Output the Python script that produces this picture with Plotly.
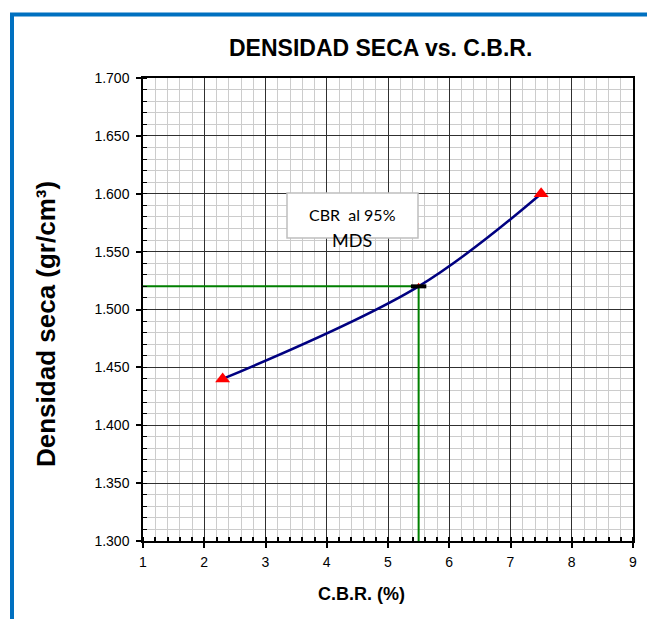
import plotly.graph_objects as go

# Data
cbr = [2.3, 5.5, 7.5]
densidad = [1.44, 1.52, 1.60]
cbr_95 = 5.5
mds_95 = 1.52
x_min, x_max = 1, 9
y_min, y_max = 1.30, 1.70

title_text = "DENSIDAD SECA vs. C.B.R."
x_title = "C.B.R. (%)"
y_title = "Densidad seca (gr/cm³)"
box_line1 = "CBR  al 95%"
box_line2 = "MDS"

fig = go.Figure()

# green guide lines
fig.add_trace(go.Scatter(
    x=[x_min, cbr_95, cbr_95], y=[mds_95, mds_95, y_min],
    mode="lines", line=dict(color="#008000", width=2),
    hoverinfo="skip", showlegend=False, cliponaxis=False))

# main curve
fig.add_trace(go.Scatter(
    x=cbr, y=densidad, mode="lines+markers",
    line=dict(color="#000080", width=2.5, shape="spline", smoothing=1),
    marker=dict(symbol="triangle-up", color="#FF0000", size=[13, 7, 13],
                opacity=1, line=dict(width=0)),
    showlegend=False))

# black dash marker at CBR 95%
fig.add_trace(go.Scatter(
    x=[cbr_95], y=[mds_95], mode="markers",
    marker=dict(symbol="line-ew", size=11,
                line=dict(color="black", width=4)),
    showlegend=False))

axis_font = dict(family="Liberation Sans, Arial", size=14, color="black")

fig.update_xaxes(
    range=[x_min, x_max], dtick=1, tick0=1,
    showgrid=True, gridcolor="#303030", gridwidth=1,
    showline=True, linecolor="black", linewidth=2, mirror=True,
    ticks="outside", ticklen=5, tickcolor="black", tickwidth=1.5,
    tickfont=axis_font, zeroline=False, ticklabelstandoff=2,
    minor=dict(dtick=0.2, showgrid=True, gridcolor="#CCCCCC", gridwidth=1,
               ticks="inside", ticklen=4, tickcolor="black", tickwidth=1.5))

fig.update_yaxes(
    range=[y_min, y_max], dtick=0.05, tick0=1.3, tickformat=".3f",
    showgrid=True, gridcolor="#303030", gridwidth=1,
    showline=True, linecolor="black", linewidth=1.5, mirror=True,
    ticks="outside", ticklen=5, tickcolor="black", tickwidth=1.5,
    tickfont=axis_font, zeroline=False, ticklabelstandoff=4,
    minor=dict(dtick=0.01, showgrid=True, gridcolor="#CCCCCC", gridwidth=1,
               ticks="inside", ticklen=4, tickcolor="black", tickwidth=1))

L, R, T, B = 143, 14, 78, 78
W, H = 647, 619
pw = W - L - R
ph = H - T - B

def px(xp):
    return (xp - L) / pw

def py(yp):
    return (H - B - yp) / ph

shapes = [
    # blue outer frame
    dict(type="rect", xref="paper", yref="paper",
         x0=px(12), x1=px(700), y0=py(14.5), y1=py(700),
         line=dict(color="#0070C0", width=4), fillcolor="rgba(0,0,0,0)",
         layer="above"),
    # annotation box
    dict(type="rect", xref="paper", yref="paper",
         x0=px(287), x1=px(418), y0=py(238), y1=py(193),
         line=dict(color="#BFBFBF", width=1.5), fillcolor="white",
         layer="above"),
]

annotations = [
    dict(text="<b>" + title_text + "</b>", xref="paper", yref="paper",
         x=px(380), y=py(48), showarrow=False,
         font=dict(family="Liberation Sans, Arial", size=23, color="black"),
         xanchor="center", yanchor="middle"),
    dict(text="<b>" + x_title + "</b>", xref="paper", yref="paper",
         x=px(361), y=py(594), showarrow=False,
         font=dict(family="Liberation Sans, Arial", size=18, color="black"),
         xanchor="center", yanchor="middle"),
    dict(text="<b>" + y_title + "</b>", xref="paper", yref="paper",
         x=px(46), y=py(324), showarrow=False, textangle=-90,
         font=dict(family="Liberation Sans, Arial", size=26, color="black"),
         xanchor="center", yanchor="middle"),
    dict(text=box_line1, xref="paper", yref="paper",
         x=px(352), y=py(215), showarrow=False,
         font=dict(family="Lato, Carlito, Calibri", size=16, color="black"),
         xanchor="center", yanchor="middle"),
    dict(text=box_line2, xref="paper", yref="paper",
         x=px(352), y=py(240), showarrow=False,
         font=dict(family="Lato, Carlito, Calibri", size=18, color="black"),
         xanchor="center", yanchor="middle"),
]

fig.update_layout(
    width=W, height=H,
    margin=dict(l=L, r=R, t=T, b=B, autoexpand=False),
    paper_bgcolor="white", plot_bgcolor="white",
    showlegend=False, shapes=shapes, annotations=annotations)

fig.write_html(
    "out.html",
    config={"displayModeBar": False},
    post_script="document.body.style.margin='0';document.body.style.overflow='hidden';")
